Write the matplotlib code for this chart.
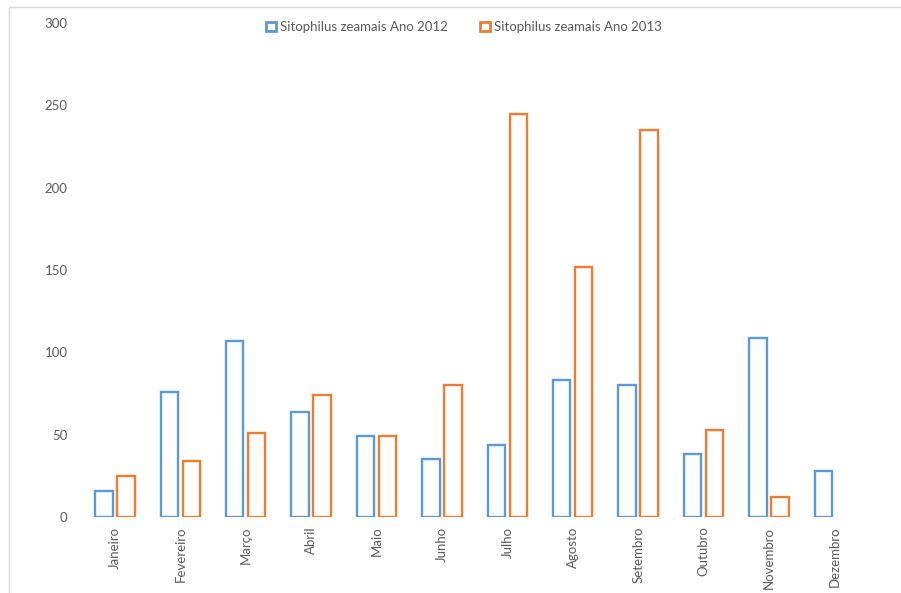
import matplotlib
matplotlib.use("Agg")
import matplotlib.pyplot as plt
from matplotlib.patches import Rectangle
from matplotlib.lines import Line2D
import numpy as np

months = ["Janeiro", "Fevereiro", "Março", "Abril", "Maio", "Junho", "Julho",
          "Agosto", "Setembro", "Outubro", "Novembro", "Dezembro"]
vals_2012 = [16, 76, 107, 64, 49, 35, 44, 83, 80, 38, 109, 28]
vals_2013 = [25, 34, 51, 74, 49, 80, 245, 152, 235, 53, 12, np.nan]
series_names = ["Sitophilus zeamais Ano 2012", "Sitophilus zeamais Ano 2013"]
yticks = [0, 50, 100, 150, 200, 250, 300]

blue = "#5B9BD5"
orange = "#ED7D31"
txt = "#595959"

plt.rcParams['font.family'] = ['Lato', 'DejaVu Sans']

W, H = 901, 593
fig = plt.figure(figsize=(W / 100, H / 100), dpi=100)
ax = fig.add_axes([82.2 / W, 1 - 517 / H, (867 - 82.2) / W, (517 - 23) / H])

x = np.arange(len(months))
bw = 0.265
off = 0.1675
lw = 1.7
ax.bar(x - off, vals_2012, width=bw, facecolor="white", edgecolor=blue, linewidth=lw)
ax.bar(x + off, vals_2013, width=bw, facecolor="white", edgecolor=orange, linewidth=lw)

ax.set_xlim(-0.5, len(months) - 0.5)
ax.set_ylim(0, 300)
ax.set_yticks(yticks)
ax.set_yticklabels([str(v) for v in yticks], fontsize=9.5, color=txt)
ax.set_xticks(x)
ax.set_xticklabels(months, rotation=90, fontsize=9.5, color=txt, va="top")
ax.tick_params(axis="both", length=0)
ax.tick_params(axis="y", pad=10.5)
ax.tick_params(axis="x", pad=7)
for s in ax.spines.values():
    s.set_visible(False)

handles = [Rectangle((0, 0), 1, 1, facecolor="white", edgecolor=blue, linewidth=2),
           Rectangle((0, 0), 1, 1, facecolor="white", edgecolor=orange, linewidth=2)]
fig.legend(handles, series_names, loc="center", bbox_to_anchor=(464 / W, 1 - 27 / H),
           ncol=2, frameon=False, fontsize=9.5, labelcolor=txt,
           handlelength=0.7, handleheight=0.7, handletextpad=0.3, columnspacing=2.5)

# chart border
fig.add_artist(Line2D([8.5 / W, 8.5 / W, 1.0], [0.0, 1 - 7 / H, 1 - 7 / H],
                      transform=fig.transFigure, color="#D9D9D9", linewidth=1))

fig.savefig("out.png", dpi=100)
